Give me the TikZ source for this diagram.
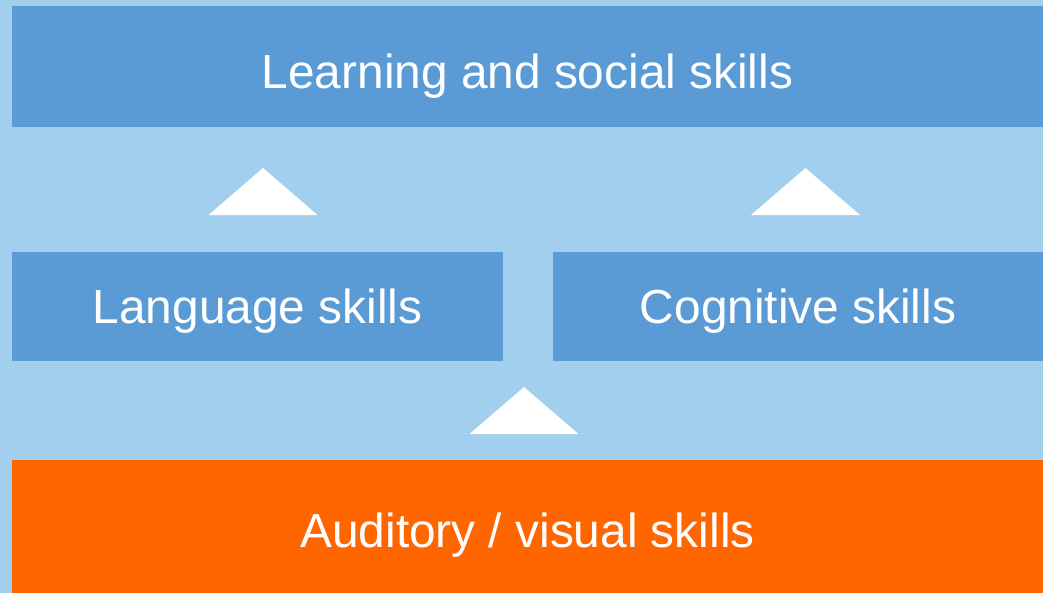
\documentclass[tikz,border=0pt]{standalone}
\usepackage{fontspec}
\setmainfont{Liberation Sans}
\definecolor{skyback}{HTML}{A3CFEE}
\definecolor{skillblue}{HTML}{5B9BD5}
\definecolor{skillorange}{HTML}{FF6600}
\begin{document}
\begin{tikzpicture}[x=0.1mm, y=-0.1mm,
   every node/.style={inner sep=0pt, outer sep=0pt, text=white,
       text depth=0pt, font=\fontsize{13.6}{16}\selectfont},
   skillbox/.style={fill=skillblue, draw=none},
   uptri/.style={fill=white, draw=none}]

\fill[skyback] (0,0) rectangle (1043,593);

\node[skillbox, minimum width=1031*0.1mm, minimum height=121*0.1mm,
   text height=4.3mm] (social) at (527.5,66.5) {Learning and social skills};
\node[skillbox, minimum width=491*0.1mm, minimum height=109*0.1mm,
   text height=3.3mm] (language) at (257.5,306.5) {Language skills};
\node[skillbox, minimum width=490*0.1mm, minimum height=109*0.1mm,
   text height=3.3mm] (cognitive) at (798,306.5) {Cognitive skills};
\node[fill=skillorange, minimum width=1031*0.1mm, minimum height=133*0.1mm,
   text height=4.1mm] (auditory) at (527.5,526.5) {Auditory / visual skills};

% arrows between levels
\fill[uptri] (language.north) ++(-49,-37) -- ++(109,0) -- ++(-54.5,-47) -- cycle;
\fill[uptri] (cognitive.north) ++(-47,-37) -- ++(109,0) -- ++(-54.5,-47) -- cycle;
\fill[uptri] (auditory.north) ++(-58,-26) -- ++(109,0) -- ++(-54.5,-47) -- cycle;

\end{tikzpicture}
\end{document}
